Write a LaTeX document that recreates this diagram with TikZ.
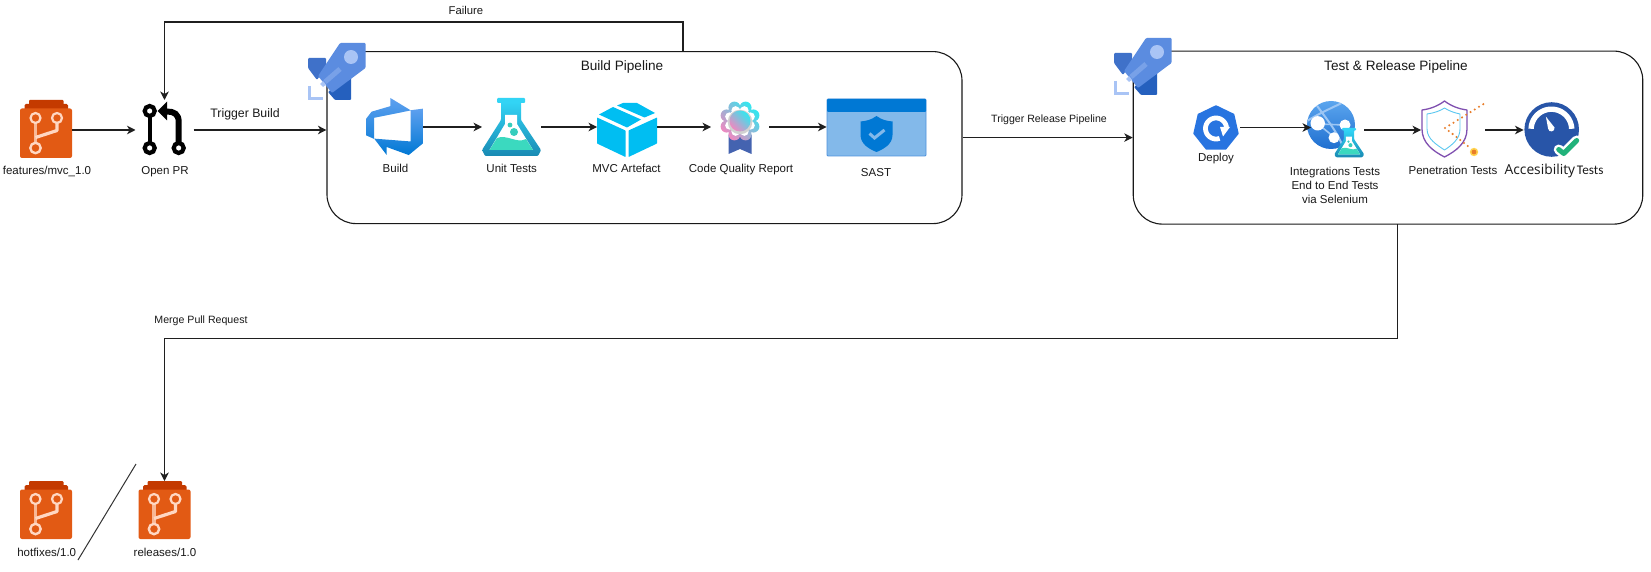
\documentclass[tikz,border=0pt]{standalone}
\usepackage{fontspec}
\setmainfont{Liberation Sans}
\newfontfamily\accfont{Open Sans}
\newfontfamily\accfontb{Carlito}
\usetikzlibrary{arrows.meta}
\definecolor{branchbody}{HTML}{E25A14}
\definecolor{branchtop}{HTML}{C43A00}
\definecolor{branchline}{HTML}{FFD7C2}
\definecolor{rocketa}{HTML}{3F71C9}
\definecolor{rocketb}{HTML}{2560BE}
\definecolor{rocketc}{HTML}{5B8CE0}
\definecolor{rocketd}{HTML}{A9C4F5}
\definecolor{rockete}{HTML}{7FA6EA}
\definecolor{adotop}{HTML}{5EA0EF}
\definecolor{adobot}{HTML}{0078D4}
\definecolor{flasktop}{HTML}{32D4F5}
\definecolor{flaskbot}{HTML}{198AB3}
\definecolor{flaskwater}{HTML}{3BD9BF}
\definecolor{cubeblue}{HTML}{00BEF2}
\definecolor{ribbonblue}{HTML}{4463B0}
\definecolor{flowera}{HTML}{30E8F0}
\definecolor{flowerb}{HTML}{F088C0}
\definecolor{sastfill}{HTML}{83B9EA}
\definecolor{sastline}{HTML}{4E92DC}
\definecolor{deployblue}{HTML}{2874E0}
\definecolor{globetop}{HTML}{5BA5EE}
\definecolor{globebot}{HTML}{1F6FD0}
\definecolor{globeline}{HTML}{9CC6F4}
\definecolor{penpurple}{HTML}{8050B0}
\definecolor{penblue}{HTML}{5CC8F0}
\definecolor{penorange}{HTML}{E87D2A}
\definecolor{pengold}{HTML}{FFD24C}
\definecolor{gaugeblue}{HTML}{2855A8}
\definecolor{gaugegreen}{HTML}{21B27A}
\tikzset{
  x=1pt,y=-1pt,
  anchorbox/.style={inner sep=0pt,outer sep=0pt,draw=none,minimum width=#1},
  anchorbox/.default=58pt,
  flow/.style={draw=black!88,line width=1.2pt,-{Stealth[length=8.5pt,width=8.5pt,inset=2.5pt]}},
  plainline/.style={draw=black!80,line width=1pt},
  pipebox/.style={draw=black!90,line width=1.1pt,fill=white,rounded corners=29pt,inner sep=0pt},
  lab/.style={font=\fontsize{11.5}{14}\selectfont,inner sep=0pt,anchor=base,text=black!90},
  smalllab/.style={font=\fontsize{10.6}{13}\selectfont,inner sep=0pt,anchor=base,text=black!90},
  titlelab/.style={font=\fontsize{13.6}{16}\selectfont,inner sep=0pt,anchor=base,text=black!90},
  branchicon/.pic={
    \fill[branchtop,rounded corners=1pt] (9,0) rectangle (43.5,6);
    \fill[branchtop,rounded corners=1.5pt] (4.5,4) rectangle (48,12);
    \fill[branchbody,rounded corners=2pt] (0,8.5) rectangle (52,58);
    \draw[branchline!75!branchbody,line width=3.4pt] (15.5,22) -- (15.5,43);
    \draw[branchline,line width=3.2pt,line join=round] (15.5,37.5) -- (37,30.5) -- (37,22);
    \draw[branchline,line width=2.2pt] (15.5,18) circle[radius=5];
    \draw[branchline,line width=2.2pt] (37,18) circle[radius=5];
    \draw[branchline,line width=2.4pt] (15.5,48) circle[radius=5.2];
  },
  pricon/.pic={
    \draw[black,line width=4.4pt] (6.7,9) -- (6.7,46);
    \draw[black,line width=6pt] (35.7,44) -- (35.7,20) .. controls (35.7,12) and (31,9.5) .. (24,9.5) -- (18,9.5);
    \fill[black] (14.5,9) -- (24,-0.5) -- (24,18.5) -- cycle;
    \foreach \cx/\cy in {6.7/9,6.7/46,35.7/46}{
      \draw[black,fill=white,line width=4.2pt] (\cx,\cy) circle[radius=5];}
  },
  rocketicon/.pic={
    \fill[rocketa,rounded corners=1pt] (0,15) -- (18,15) -- (18,24) -- (9,37) -- (0,25) -- cycle;
    \fill[rocketb,rounded corners=1pt] (43,30) -- (43,57) -- (27,57) -- (20,49) -- cycle;
    \fill[rocketc,rounded corners=1pt] (32,0) -- (57.5,0) -- (57.5,25) -- (24,50) -- (10,33) -- cycle;
    \fill[rocketd] (43,14) circle[radius=7];
    \draw[rockete!80!rocketc,line width=5pt] (32,26) -- (17,39);
    \fill[rocketd] (12,41) -- (15,38) -- (18,41.5) -- (15,44) -- cycle;
    \draw[rocketd,line width=3pt] (1.5,43) -- (1.5,55.5) -- (15,55.5);
  },
  adoicon/.pic={
    \begin{scope}[scale=3.56,shift={(-1,-1)}]
    \path[top color=adotop,bottom color=adobot]
      (17,4) -- (17,13.74) -- (13,17.02) -- (6.8,14.76) -- (6.8,17) -- (3.29,12.41)
      -- (13.52,13.21) -- (13.52,4.44) -- cycle;
    \path[top color=adotop,bottom color=adobot!70!adotop]
      (13.59,4.49) -- (7.85,1) -- (7.85,3.29) -- (2.58,4.84) -- (1,6.87) -- (1,11.48)
      -- (3.26,12.48) -- (3.26,6.57) -- cycle;
    \end{scope}
  },
  flaskicon/.pic={
    \fill[flasktop,rounded corners=1pt] (15,0) rectangle (43,5);
    \path[top color=flasktop,bottom color=flaskbot,rounded corners=1pt]
      (19,4) -- (39,4) -- (39,22) -- (59,52) -- (56,58) -- (3,58) -- (0,52) -- (19,22) -- cycle;
    \fill[white] (23,17) -- (35,17) -- (35,26) -- (51,52) -- (7.5,52) -- (23,26) -- cycle;
    \fill[flaskwater] (7.5,52) -- (15,40) .. controls (25,36) and (35,46) .. (44,41) -- (51,52) -- cycle;
    \fill[flaskwater!85!flaskbot] (28,27) circle[radius=2.4] (32,34) circle[radius=4];
  },
  cubeicon/.pic={
    \fill[cubeblue,rounded corners=.5pt] (0,14.5) -- (28.5,27.5) -- (28.5,54) -- (0,40.5) -- cycle;
    \fill[cubeblue,rounded corners=.5pt] (31.5,27.5) -- (60,14.5) -- (60,40.5) -- (31.5,54) -- cycle;
    \fill[cubeblue] (2,11.5) -- (16,4) -- (44,16.5) -- (30,24.5) -- cycle;
    \fill[cubeblue] (20,2.5) -- (26,0) -- (40,0) -- (58,10) -- (47.5,14.5) -- cycle;
  },
  ribbonicon/.pic={
    \fill[ribbonblue] (-11.5,14) -- (11.5,14) -- (11.5,33) -- (0,28) -- (-11.5,33) -- cycle;
    \path[left color=flowera,right color=flowerb,shading angle=-45]
      foreach \a in {0,45,...,315}{(\a+22.5:14.5) circle[radius=6]} (0,0) circle[radius=15];
    \fill[white] foreach \a in {0,45,...,315}{(\a+22.5:11.5) circle[radius=4.2]} (0,0) circle[radius=12.5];
    \fill[black!18] (0,1) circle[radius=12.3];
    \path[left color=flowera,right color=flowerb,shading angle=-45] (0,0) circle[radius=10.5];
  },
  sasticon/.pic={
    \fill[sastfill,draw=sastline,line width=.8pt,rounded corners=1pt] (0,0) rectangle (99,57);
    \fill[adobot,rounded corners=1pt] (0,0) rectangle (99,13);
    \fill[adobot] (49.5,17) .. controls (55,21) and (60,22) .. (65.5,22.5) -- (65.5,36)
      .. controls (65.5,45) and (57,50) .. (49.5,53) .. controls (42,50) and (33.5,45) .. (33.5,36)
      -- (33.5,22.5) .. controls (39,22) and (44,21) .. (49.5,17) -- cycle;
    \draw[sastfill,line width=3pt] (42.5,34.5) -- (47.5,39) -- (57.5,31);
  },
  deployicon/.pic={
    \fill[deployblue,draw=deployblue,line width=1.5pt,line join=round]
      (-90:22.5) -- (-38.57:22.5) -- (12.86:22.5) -- (64.29:22.5) -- (115.71:22.5) -- (167.14:22.5) -- (218.57:22.5) -- cycle;
    \draw[white,line width=4.8pt] plot[domain=70:360,samples=40] ({10.5*cos(\x)},{10.5*sin(\x)});
    \fill[white] (4,-1.5) -- (14,-1.5) -- (7,8) -- cycle;
  },
  globeicon/.pic={
    \begin{scope}
      \path[clip] (0,0) circle[radius=24];
      \path[top color=globetop,bottom color=globebot] (-24,-24) rectangle (24,24);
      \draw[globeline,line width=2pt] (-16,-22) .. controls (-6,-8) and (6,6) .. (12,22);
      \draw[globeline,line width=2pt] (-24,-4) .. controls (-8,-14) and (8,-20) .. (14,-24);
      \draw[globeline,line width=1.6pt] (-13,-1) -- (14,0) (-13,-1) -- (3,12);
    \end{scope}
    \fill[white] (-13.3,-1.7) circle[radius=7.2] (3,12.7) circle[radius=5.5] (14,0) circle[radius=5.5];
  },
  penicon/.pic={
    \draw[penpurple,line width=1.3pt,line join=round,fill=white]
      (22.5,0) .. controls (29,5) and (37,8) .. (45,9) -- (45,28) .. controls (45,42) and (34,50) .. (22.5,56)
      .. controls (11,50) and (0,42) .. (0,28) -- (0,9) .. controls (8,8) and (16,5) .. (22.5,0) -- cycle;
    \draw[penblue,line width=.9pt,line join=round]
      (22.5,7) .. controls (27,10) and (33,12) .. (38,13) -- (38,28) .. controls (38,38) and (30,44) .. (22.5,49)
      .. controls (15,44) and (5,38) .. (5,28) -- (5,13) .. controls (12,12) and (18,10) .. (22.5,7) -- cycle;
    \foreach \i in {0,...,9}{\fill[penorange] ({23+\i*4.25},{27-\i*2.65}) circle[radius=1.15];}
    \foreach \i in {1,...,6}{\fill[penorange] ({23+\i*3.8},{27+\i*3}) circle[radius=1.15];}
    \fill[pengold] (52,51) circle[radius=4.2];
    \fill[penorange] (52,51) circle[radius=2.4];
  },
  gaugeicon/.pic={
    \fill[gaugeblue] (0,0) circle[radius=27.3];
    \draw[white,line width=5.4pt] plot[domain=182:358,samples=40] ({-0.3+20.3*cos(\x)},{20.3*sin(\x)});
    \fill[white] (-5.8,-12.8) -- (2.8,-2) .. controls (3.5,2.5) and (-3,3.5) .. (-3.6,-0.8) -- cycle;
    \draw[white,line width=10pt,line cap=round,line join=round] (7,20) -- (12,24) -- (25,11);
    \draw[gaugegreen,line width=5pt,line cap=round,line join=round] (7,20) -- (12,24) -- (25,11);
  }
}
\begin{document}
\begin{tikzpicture}
\useasboundingbox[fill=white] (0,0) rectangle (1651,572);

% pipeline frames
\node[pipebox,minimum width=635pt,minimum height=172pt] (box1) at (644.5,137.6) {};
\node[pipebox,minimum width=509.5pt,minimum height=173pt] (box2) at (1388,137.6) {};

% icon anchors
\node[anchorbox=52pt,minimum height=58pt] (feat) at (46,130) {};
\node[anchorbox=58pt,minimum height=60pt] (pr) at (164.5,130) {};
\node[anchorbox=57pt,minimum height=58pt] (build) at (394.5,127) {};
\node[anchorbox=59pt,minimum height=58pt] (unit) at (511.5,127) {};
\node[anchorbox=60pt,minimum height=58pt] (artefact) at (627,127) {};
\node[anchorbox=58pt,minimum height=58pt] (quality) at (740,127) {};
\node[anchorbox=99pt,minimum height=58pt] (sast) at (876,127) {};
\node[anchorbox=47pt,minimum height=46pt] (deploy) at (1216.5,127.5) {};
\node[anchorbox=53pt,minimum height=58pt] (globe) at (1337.5,130) {};
\node[anchorbox=64pt,minimum height=58pt] (pen) at (1453,130) {};
\node[anchorbox=55pt,minimum height=58pt] (gauge) at (1551,130) {};
\node[anchorbox=52pt,minimum height=58pt] (hot) at (46,510) {};
\node[anchorbox=52pt,minimum height=58pt] (rel) at (164.5,510) {};

% icons
\pic at (20,100) {branchicon};
\pic at (143,102) {pricon};
\pic at (308,43) {rocketicon};
\pic at (366,98) {adoicon};
\pic at (482,98) {flaskicon};
\pic at (597,103) {cubeicon};
\pic at (740,121) {ribbonicon};
\pic at (827,99) {sasticon};
\pic at (1114,38) {rocketicon};
\pic at (1216,128.5) {deployicon};
\pic at (1331,125) {globeicon};
\pic[scale=.505] at (1334.3,128) {flaskicon};
\pic at (1422,101) {penicon};
\pic at (1551.7,129.5) {gaugeicon};
\pic at (20,481) {branchicon};
\pic at (138.5,481) {branchicon};

% labels
\node[lab] (tfeat) at (47,175) {features/mvc\_1.0};
\node[lab] (tpr) at (165,175) {Open PR};
\node[lab,font=\fontsize{12.3}{14}\selectfont] (ttrig) at (245,118) {Trigger Build};
\node[smalllab,font=\fontsize{11.3}{13}\selectfont] (tfail) at (466,15) {Failure};
\node[titlelab] (ttitlea) at (622,70.5) {Build Pipeline};
\node[lab] (tbuild) at (395.5,173) {Build};
\node[lab] (tunit) at (511.7,173) {Unit Tests};
\node[lab] (tart) at (626.5,173) {MVC Artefact};
\node[lab] (tqual) at (741,173) {Code Quality Report};
\node[lab] (tsast) at (876,177) {SAST};
\node[smalllab] (trel) at (1049,123) {Trigger Release Pipeline};
\node[titlelab] (ttitleb) at (1396,70.7) {Test \& Release Pipeline};
\node[lab] (tdep) at (1216,162) {Deploy};
\node[lab,anchor=center,align=center] (tint) at (1335,185.5) {Integrations Tests\\End to End Tests\\via Selenium};
\node[lab] (tpen) at (1453,175) {Penetration Tests};
\node[lab] (tacc) at (1554,175) {{\accfont\fontsize{13.8}{14}\selectfont Accesibility}\,{\accfontb\fontsize{13.2}{14}\selectfont Tests}};
\node[smalllab] (tmerge) at (201,323) {Merge Pull Request};
\node[lab] (thot) at (46.7,556) {hotfixes/1.0};
\node[lab] (trelb) at (165,556) {releases/1.0};

% connectors
\coordinate (failstart) at (683,51.5);
\coordinate (mergestart) at (1397.3,224);
\coordinate (slasha) at (136,464);
\coordinate (slashb) at (78,560);
\draw[flow] (feat.east) -- (pr.west);
\draw[flow] (pr.east) -- (pr.east -| box1.west);
\draw[flow] (build.east) -- (unit.west);
\draw[flow] (unit.east) -- (artefact.west);
\draw[flow] (artefact.east) -- (quality.west);
\draw[flow] (quality.east) -- (sast.west);
\draw[flow] (box1.east) -- (box2.west);
\draw[flow] (deploy.east) -- (deploy.east -| globe.west);
\draw[flow] (globe.east) -- (pen.west);
\draw[flow] (pen.east) -- (gauge.west);
\draw[flow] (failstart) -- ++(0,-29.5) -| (pr.north);
\draw[flow] (mergestart) -- ++(0,114.7) -| (rel.north);
\draw[plainline] (slasha) -- (slashb);
\end{tikzpicture}
\end{document}
